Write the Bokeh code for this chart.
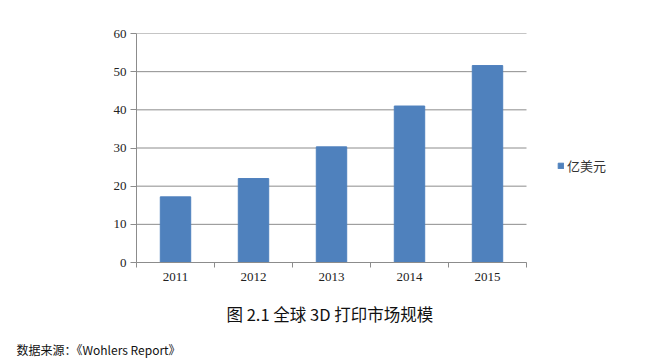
from bokeh.plotting import figure
from bokeh.models import Range1d, FixedTicker, Title, Legend, LegendItem, ColumnDataSource
from bokeh.embed import file_html
from bokeh.resources import INLINE

years = ["2011", "2012", "2013", "2014", "2015"]
values = [17.2, 22.0, 30.3, 41.0, 51.6]
y_ticks = [0, 10, 20, 30, 40, 50, 60]
series_name = "亿美元"
caption = "图 2.1 全球 3D 打印市场规模"
source_note = "数据来源：《Wohlers Report》"

n = len(years)
pos = list(range(1, n + 1))
src = ColumnDataSource(dict(x=pos, top=values))

W, H = 652, 360
left, top, bottom = 136, 33, H - 262
frame_w = W - left
cat_px = 78.0
x_end = 0.5 + frame_w / cat_px

p = figure(width=W, height=H, output_backend="svg", toolbar_location=None,
           x_range=Range1d(0.5, x_end), y_range=Range1d(0, 60),
           min_border_left=left, min_border_right=0, min_border_top=top, min_border_bottom=bottom)
p.outline_line_color = None
p.background_fill_color = "white"
p.border_fill_color = "white"

# horizontal grid lines limited to category area
p.xgrid.grid_line_color = None
p.ygrid.grid_line_color = None
p.segment(x0=[0.5] * len(y_ticks), x1=[n + 0.5] * len(y_ticks), y0=y_ticks, y1=y_ticks,
          line_color="#8c8c8c", line_width=1)

r = p.vbar(x="x", top="top", width=0.39, bottom=0, source=src,
           fill_color="#4F81BD", line_color="#4F81BD")

xa = p.xaxis[0]
xa.bounds = (0.5, n + 0.5)
xa.ticker = FixedTicker(ticks=pos, minor_ticks=[i + 0.5 for i in range(0, n + 1)])
xa.major_label_overrides = {i: y for i, y in zip(pos, years)}
xa.major_tick_line_color = None
xa.minor_tick_in = 0
xa.minor_tick_out = 5
xa.minor_tick_line_color = "#8c8c8c"
xa.axis_line_color = "#8c8c8c"
xa.major_label_text_font = "Liberation Serif"
xa.major_label_text_font_size = "13px"
xa.major_label_text_color = "#222222"
xa.major_label_standoff = 4

ya = p.yaxis[0]
ya.ticker = FixedTicker(ticks=y_ticks)
ya.major_tick_in = 0
ya.major_tick_out = 6
ya.minor_tick_line_color = None
ya.major_tick_line_color = "#8c8c8c"
ya.axis_line_color = "#8c8c8c"
ya.major_label_text_font = "Liberation Serif"
ya.major_label_text_font_size = "13px"
ya.major_label_text_color = "#222222"
ya.major_label_standoff = 4

legend = Legend(items=[LegendItem(label=series_name, renderers=[r])],
                location=(421, 87), border_line_color=None, background_fill_alpha=0,
                label_text_font="Noto Sans CJK SC", label_text_font_size="13px",
                label_text_color="#333333", glyph_width=7, glyph_height=7,
                label_standoff=3, padding=0, margin=0)
p.add_layout(legend)

p.add_layout(Title(text=caption, align="left", text_font="Noto Sans CJK SC",
                   text_font_size="16.5px", text_font_style="normal", text_color="#111111",
                   offset=90, standoff=32), "below")
p.add_layout(Title(text=source_note, align="left", text_font="Noto Sans CJK SC",
                   text_font_size="12px", text_font_style="normal", text_color="#111111",
                   offset=-120, standoff=-6), "below")

open("out.html", "w").write(file_html(p, INLINE))
